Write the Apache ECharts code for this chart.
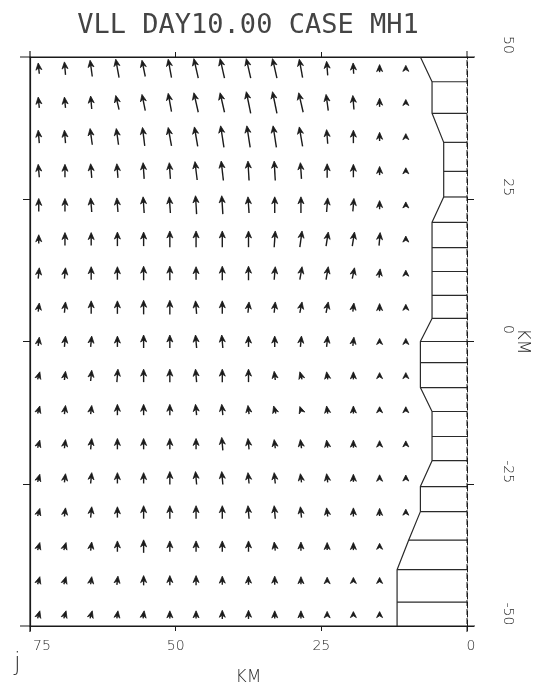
<!DOCTYPE html>
<html>
<head>
<meta charset="utf-8">
<script src="https://cdn.jsdelivr.net/npm/echarts@6/dist/echarts.min.js"></script>
<style>html,body{margin:0;padding:0;background:#fff}#c{width:535px;height:692px}</style>
</head>
<body>
<div id="c"></div>
<script>
// ---- data ----
const titleText = 'VLL DAY10.00 CASE MH1';
const xTicks = [75, 50, 25, 0];
const yTicks = [50, 25, 0, -25, -50];
// grid-point positions (km)
const xKm = [73.5, 69, 64.5, 60, 55.5, 51, 46.5, 42, 37.5, 33, 28.5, 24, 19.5, 15, 10.5];
const yKm = [48, 42, 36, 30, 24, 18, 12, 6, 0, -6, -12, -18, -24, -30, -36, -42, -48];
// northward component (cm/s), one row per yKm, one column per xKm (null = land)
const vRows = [
  [10,12,15,17,15,17,18,18,18,18,17,13,10,7,5],
  [10,10,12,13,15,17,18,18,20,20,18,15,13,8,5],
  [12,12,15,15,17,17,18,20,20,20,18,13,12,8,5],
  [12,12,13,13,15,15,17,18,18,18,15,13,12,8,4],
  [12,12,13,13,15,15,17,17,15,15,15,13,12,8,5],
  [8,12,12,13,13,15,15,15,15,15,15,13,13,12,4],
  [10,10,12,12,13,13,12,13,13,12,12,12,10,8,4],
  [8,10,12,12,13,13,12,12,10,10,10,10,8,7,4],
  [8,10,10,10,12,12,12,12,10,10,10,10,8,5,4],
  [7,8,10,12,12,12,12,12,12,8,7,7,7,4,4],
  [7,8,8,10,10,10,10,10,8,7,6,7,7,5,4],
  [7,8,10,10,10,10,10,12,10,8,8,7,7,6,4],
  [7,8,10,10,10,12,12,12,10,10,8,8,7,6,4],
  [7,8,10,10,12,12,12,12,12,12,10,8,8,7,4],
  [7,7,8,10,12,10,10,10,10,8,8,7,7,5,null],
  [7,7,7,8,9,9,9,8,8,8,7,6,5,5,null],
  [7,7,7,7,7,7,7,8,8,7,7,6,5,4,null]
];
// offshore component (cm/s, positive toward larger km)
const uRows = [
  [1,1,2,3,3,3,4,4,4,4,3,1,0.5,0,0],
  [1,1,1,3,3,3,4,4,4,4,4,2,1,0,0],
  [1,1,2,2,2,3,3,3,3,3,3,1,0,0,0],
  [1,0,1,1,1,1,2,2,1,1,1,0,0,0,0],
  [0,0,1,1,1,1,1,1,1,0,0,-1,-1,0,0],
  [0,0,0,0,0,0,0,0,0,-1,-2,-2,-2,-1,0],
  [-1,-1,0,0,0,0,0,0,0,-1,-2,-2,-2,-1,0],
  [-1,-1,0,0,0,0,1,0,-1,-1,-2,-2,-1,0,0],
  [-1,-1,-1,0,0,0,1,1,0,0,-1,-1,-1,0,0],
  [-2,-1,-1,-1,0,0,1,0,0,1,2,1,0,0,0],
  [-2,-1,-1,0,0,0,1,1,1,2,2,1,0,0,0],
  [-2,-1,-1,0,0,0,0,1,1,1,1,1,0,0,0],
  [-2,-1,-1,0,0,0,1,1,1,1,1,1,0,0,0],
  [-2,-1,-1,0,0,0,0,0,1,1,1,1,0,0,0],
  [-2,-2,-1,0,0,0,0,0,0,1,0,0,0,0,null],
  [-2,-2,-1,-1,0,0,0,0,0,0,0,0,0,0,null],
  [-2,-2,-2,-1,-1,0,0,0,0,0,0,0,0,0,null]
];
// coastline (km)
const coastX = [8, 6, 6, 4, 4, 4, 6, 6, 6, 6, 6, 8, 8, 8, 6, 6, 6, 8, 8, 10, 12, 12, 12];
const coastY = [50, 45.65, 40.1, 35, 29.9, 25.4, 20.95, 16.5, 12.3, 8.1, 4.05, 0, -3.7, -8.1, -12.3, -16.7, -20.95, -25.5, -29.9, -34.9, -40.1, -45.8, -50];

// ---- build ----
const KM_PER_UNIT = 0.19;
const arrows = [];
yKm.forEach((y, j) => xKm.forEach((x, i) => {
  if (vRows[j][i] !== null) arrows.push([x, y, uRows[j][i], vRows[j][i]]);
}));
const coastLine = coastX.map((x, i) => [x, coastY[i]]);
const cellLines = coastLine.slice(1, -1);

const FONT = 'DejaVu Sans';
const INK = '#1a1a1a';
const TXT = '#2a2a2a';

const chart = echarts.init(document.getElementById('c'), null, {renderer: 'canvas'});
chart.setOption({
  backgroundColor: '#fff',
  animation: false,
  title: {
    text: titleText, left: 243, textAlign: 'center', top: 7,
    textStyle: {fontFamily: 'DejaVu Sans Mono', fontSize: 27, fontWeight: 'normal', color: '#444'}
  },
  grid: {left: 30, right: 68, top: 57, bottom: 66, containLabel: false, outerBoundsMode: 'none'},
  xAxis: [{
    type: 'value', min: 0, max: 75, interval: 25, inverse: true, position: 'bottom',
    name: 'KM', nameLocation: 'middle', nameGap: 43, nameMoveOverlap: false,
    nameTextStyle: {fontFamily: FONT, fontSize: 17, color: TXT, fontWeight: 'lighter'},
    axisLine: {show: true, onZero: false, lineStyle: {color: INK, width: 1.2}},
    axisTick: {show: true, inside: false, length: 5, lineStyle: {color: INK}},
    axisLabel: {fontFamily: FONT, fontSize: 14, color: TXT, margin: 13, fontWeight: 'lighter',
      formatter: v => v === 75 ? '{o|75}' : (v === 0 ? '{z|0}' : String(v)),
      rich: {o: {fontFamily: FONT, fontSize: 14, color: TXT, fontWeight: 'lighter', padding: [0, 0, 0, 24]},
             z: {fontFamily: FONT, fontSize: 14, color: TXT, fontWeight: 'lighter', padding: [0, 0, 0, 8]}}},
    splitLine: {show: false}
  }, {
    type: 'value', min: 0, max: 75, interval: 25, inverse: true, position: 'top',
    axisLine: {show: true, onZero: false, lineStyle: {color: INK, width: 1.2}},
    axisTick: {show: true, length: 5, customValues: [50, 25], lineStyle: {color: INK}},
    axisLabel: {show: false}, splitLine: {show: false}
  }],
  yAxis: [{
    type: 'value', min: -50, max: 50, interval: 25, position: 'right',
    name: 'KM', nameLocation: 'middle', nameGap: 47, nameRotate: -90, nameMoveOverlap: false,
    nameTextStyle: {fontFamily: FONT, fontSize: 17, color: TXT, fontWeight: 'lighter'},
    axisLine: {show: true, onZero: false, lineStyle: {color: INK, width: 1, type: [6, 3]}},
    axisTick: {show: true, length: 7, lineStyle: {color: INK}},
    axisLabel: {fontFamily: FONT, fontSize: 14, color: TXT, rotate: -90, margin: 34, fontWeight: 'lighter',
      formatter: v => '{t|' + v + '}',
      rich: {t: {fontFamily: FONT, fontSize: 14, color: TXT, fontWeight: 'lighter', padding: [0, 24, 0, 0]}}},
    splitLine: {show: false}
  }, {
    type: 'value', min: -50, max: 50, interval: 25, position: 'left',
    axisLine: {show: true, onZero: false, lineStyle: {color: INK, width: 1.2}},
    axisTick: {show: true, length: 7, customValues: [25, 0, -25], lineStyle: {color: INK}},
    axisLabel: {show: false}, splitLine: {show: false}
  }],
  graphic: [{
    type: 'text', left: 14, top: 652,
    style: {text: 'j', font: '300 24px "DejaVu Sans"', fill: '#333'}
  }],
  series: [{
    type: 'custom', name: 'current', xAxisIndex: 0, yAxisIndex: 0,
    data: arrows, clip: false,
    renderItem: function (params, api) {
      const x = api.value(0), y = api.value(1), u = api.value(2), v = api.value(3);
      const tip = api.coord([x + u * KM_PER_UNIT / 2, y + v * KM_PER_UNIT / 2]);
      const tail = api.coord([x - u * KM_PER_UNIT / 2, y - v * KM_PER_UNIT / 2]);
      let dx = tip[0] - tail[0], dy = tip[1] - tail[1];
      const L = Math.hypot(dx, dy) || 1;
      const ex = dx / L, ey = dy / L, px = -ey, py = ex;
      const hl = Math.min(7, Math.max(L, 6)), hw = 3;
      let t0 = tip;
      if (L < hl) { const c = api.coord([x, y]); t0 = [c[0] + ex * hl / 2, c[1] + ey * hl / 2]; }
      const bx = t0[0] - ex * hl, by = t0[1] - ey * hl;
      const nx = t0[0] - ex * hl * 0.7, ny = t0[1] - ey * hl * 0.7;
      const children = [];
      if (L > hl) {
        children.push({type: 'line', shape: {x1: tail[0], y1: tail[1], x2: nx, y2: ny},
          style: {stroke: INK, lineWidth: 1.4}});
      }
      children.push({type: 'polygon', shape: {points: [
        t0, [bx + px * hw, by + py * hw], [nx, ny], [bx - px * hw, by - py * hw]]},
        style: {fill: INK, stroke: INK, lineWidth: 0.8}});
      return {type: 'group', children: children};
    }
  }, {
    type: 'line', name: 'coast', xAxisIndex: 0, yAxisIndex: 0,
    data: coastLine, symbol: 'none', silent: true,
    lineStyle: {color: '#2a2a2a', width: 1.2}
  }, {
    type: 'custom', name: 'cells', xAxisIndex: 0, yAxisIndex: 0,
    data: cellLines, clip: false, silent: true,
    renderItem: function (params, api) {
      const a = api.coord([api.value(0), api.value(1)]);
      const b = api.coord([0, api.value(1)]);
      return {type: 'line', shape: {x1: a[0], y1: a[1], x2: b[0], y2: b[1]},
        style: {stroke: '#2a2a2a', lineWidth: 1.2}};
    }
  }, {
    type: 'custom', name: 'frame', xAxisIndex: 0, yAxisIndex: 0,
    data: [[75, 50, 0, -50]], clip: false, silent: true,
    renderItem: function (params, api) {
      const tl = api.coord([api.value(0), api.value(1)]);
      const br = api.coord([api.value(2), api.value(3)]);
      const st = {stroke: INK, lineWidth: 1.2};
      return {type: 'group', children: [
        {type: 'line', shape: {x1: tl[0] - 10, y1: tl[1], x2: br[0] + 8, y2: tl[1]}, style: st},
        {type: 'line', shape: {x1: tl[0] - 10, y1: br[1], x2: br[0] + 8, y2: br[1]}, style: st},
        {type: 'line', shape: {x1: tl[0], y1: tl[1] - 6, x2: tl[0], y2: br[1] + 6}, style: st},
        {type: 'line', shape: {x1: br[0], y1: tl[1] - 6, x2: br[0], y2: br[1] + 6},
          style: {stroke: INK, lineWidth: 1, lineDash: [6, 3]}}
      ]};
    }
  }]
});
</script>
</body>
</html>
